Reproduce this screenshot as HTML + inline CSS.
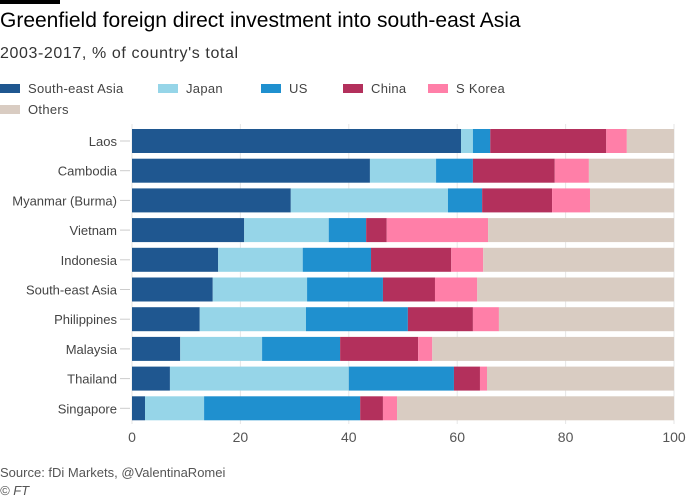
<!DOCTYPE html>
<html><head><meta charset="utf-8"><style>
body{margin:0;background:#fff;font-family:"Liberation Sans",sans-serif;}
#wrap{position:relative;width:700px;height:500px;overflow:hidden;background:#fff}
.t{position:absolute;white-space:nowrap}
</style></head><body>
<div id="wrap">
<div class="t" style="left:0;top:0;width:60px;height:4px;background:#000"></div>
<div class="t" style="left:0;top:9px;font-size:21px;color:#000">Greenfield foreign direct investment into south-east Asia</div>
<div class="t" style="left:0;top:45px;font-size:16px;letter-spacing:0.6px;color:#333">2003-2017, % of country's total</div>
<svg id="svg" width="700" height="500" style="position:absolute;left:0;top:0"></svg>
<div class="t" style="left:0;top:465px;font-size:13px;color:#555">Source: fDi Markets, @ValentinaRomei</div>
<div class="t" style="left:0;top:483px;font-size:13px;color:#555;font-style:italic">© FT</div>
</div>
<script>
const categories=["Laos","Cambodia","Myanmar (Burma)","Vietnam","Indonesia","South-east Asia","Philippines","Malaysia","Thailand","Singapore"];
const seriesNames=["South-east Asia","Japan","US","China","S Korea","Others"];
const seriesColors=["#1f5790","#96d5e8","#1f90cf","#b3305c","#ff7fa8","#d9ccc2"];
const sea=[60.7,43.9,29.3,20.7,15.9,14.9,12.5,8.9,7.0,2.4];
const japan=[2.2,12.2,29.0,15.6,15.6,17.4,19.6,15.1,33.0,10.9];
const us=[3.2,6.8,6.3,6.9,12.6,14.0,18.8,14.4,19.4,28.8];
const china=[21.4,15.1,12.9,3.8,14.8,9.6,12.0,14.4,4.8,4.2];
const skorea=[3.8,6.3,7.0,18.7,5.9,7.8,4.8,2.6,1.3,2.6];
const ticks=[0,20,40,60,80,100];
const series=[sea,japan,us,china,skorea];
const svg=document.getElementById('svg');const NS='http://www.w3.org/2000/svg';
const x0=132,x1=674;const xs=v=>x0+(x1-x0)*v/100;
const yTop=129,step=29.7,bh=24;const ys=i=>yTop+i*step;
function mk(t,a){const e=document.createElementNS(NS,t);for(const k in a)e.setAttribute(k,a[k]);svg.appendChild(e);return e;}
const legPos=[[0,88],[158,88],[261,88],[343,88],[428,88],[0,109]];
seriesNames.forEach((n,i)=>{const r=mk('rect',{x:legPos[i][0],y:legPos[i][1]-4,width:20,height:9,fill:seriesColors[i]});


const t=mk('text',{x:legPos[i][0]+28,y:legPos[i][1]+5,'font-size':13,'letter-spacing':0.3,fill:'#444','font-family':'Liberation Sans'});t.textContent=n;

});
ticks.forEach(v=>{const l=mk('line',{x1:xs(v),x2:xs(v),y1:124,y2:424,stroke:'#e6e6e6','stroke-width':1});


const t=mk('text',{x:xs(v),y:442,'text-anchor':'middle','font-size':14,fill:'#555','font-family':'Liberation Sans'});t.textContent=v;

});
categories.forEach((c,i)=>{const y=ys(i);
const t=mk('text',{x:117,y:y+bh/2+5,'text-anchor':'end','font-size':13,fill:'#444','font-family':'Liberation Sans'});t.textContent=c;


const tk=mk('line',{x1:120,x2:130,y1:y+bh/2,y2:y+bh/2,stroke:'#ccc'});


let acc=0;
series.forEach((s,k)=>{const r=mk('rect',{x:xs(acc),y:y,width:xs(acc+s[i])-xs(acc),height:bh,fill:seriesColors[k]});

acc+=s[i];});
const r=mk('rect',{x:xs(acc),y:y,width:xs(100)-xs(acc),height:bh,fill:seriesColors[5]});


});
</script>
</body></html>
